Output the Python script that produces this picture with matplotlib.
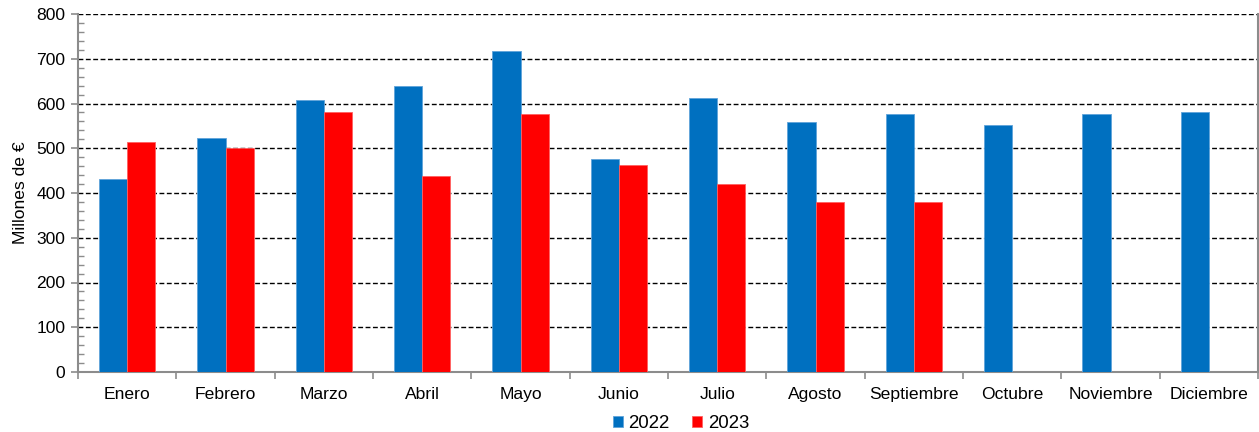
#!/usr/bin/env python

"""
Recaudacion mensual 2022 vs 2023 (millones de euros), bar chart.
"""

import numpy as np
import matplotlib
matplotlib.use('Agg')
import matplotlib.pyplot as plt
import matplotlib.ticker as mtick

plt.rcParams['font.family'] = ['Liberation Sans', 'DejaVu Sans']

MONTHS = ['Enero', 'Febrero', 'Marzo', 'Abril', 'Mayo', 'Junio', 'Julio',
          'Agosto', 'Septiembre', 'Octubre', 'Noviembre', 'Diciembre']
VALUES_2022 = [431, 524, 608, 638, 718, 475, 612, 559, 577, 552, 577, 580]
VALUES_2023 = [513, 501, 580, 439, 577, 463, 421, 381, 381]
SERIES_NAMES = ['2022', '2023']
Y_TICKS = [0, 100, 200, 300, 400, 500, 600, 700, 800]

BLUE = '#0070C0'
RED = '#FF0000'
GRAY = '#8C8C8C'
BAR_W = 0.285
FS = 12.6


def get_plot(outfile):
    fig = plt.figure(figsize=(12.59, 4.32), dpi=100)
    ax = fig.add_axes([78 / 1259, 1 - 372 / 432, (1258 - 78) / 1259, (372 - 14) / 432])

    x = np.arange(len(MONTHS))
    x23 = np.arange(len(VALUES_2023))
    ax.bar(x - BAR_W / 2, VALUES_2022, BAR_W, color=BLUE, edgecolor='#5FA3DA',
           linewidth=0.6, label=SERIES_NAMES[0], zorder=3)
    ax.bar(x23 + BAR_W / 2, VALUES_2023, BAR_W, color=RED, edgecolor='#FF6060',
           linewidth=0.6, label=SERIES_NAMES[1], zorder=3)

    ax.set_xlim(-0.5, len(MONTHS) - 0.5)
    ax.set_ylim(0, 800)
    ax.set_yticks(Y_TICKS)
    ax.yaxis.set_minor_locator(mtick.MultipleLocator(20))
    ax.yaxis.grid(True, which='major', color='black', linestyle=(0, (3.5, 1.8)), linewidth=1.0, zorder=1)

    # month labels centred, tick marks on the boundaries
    ax.set_xticks(np.arange(len(MONTHS) + 1) - 0.5)
    ax.set_xticklabels([])
    ax.set_xticks(x, minor=True)
    ax.set_xticklabels(MONTHS, minor=True, fontsize=FS)
    ax.tick_params(axis='x', which='major', direction='out', length=5, color=GRAY, width=1.2)
    ax.tick_params(axis='x', which='minor', length=0, pad=11)
    ax.tick_params(axis='y', which='major', direction='out', length=5, color=GRAY, width=1.2,
                   labelsize=FS, pad=4)
    ax.tick_params(axis='y', which='minor', direction='in', length=4, color=GRAY, width=1.0)

    for side in ['left', 'bottom', 'right']:
        ax.spines[side].set_color(GRAY)
        ax.spines[side].set_linewidth(1.5)
    ax.spines['top'].set_visible(False)

    ax.set_ylabel('Millones de €', fontsize=FS, labelpad=6)

    ax.legend(loc='upper center', bbox_to_anchor=(0.511, -0.1), ncol=2, frameon=False,
              fontsize=13.4, handlelength=0.55, handleheight=0.55, handletextpad=0.3,
              columnspacing=1.2, borderaxespad=0)

    fig.savefig(outfile, dpi=100)


if __name__ == '__main__':
    get_plot('out.png')
